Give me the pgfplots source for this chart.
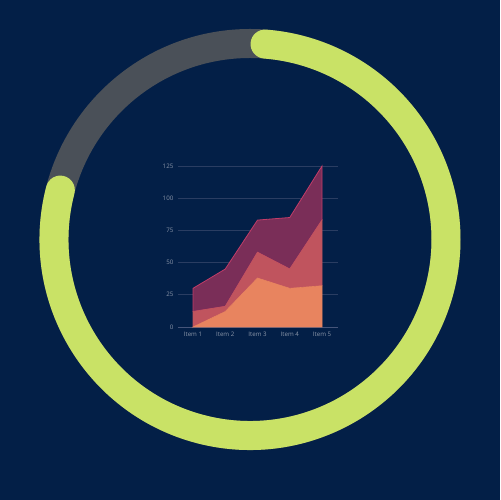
\documentclass[border=0pt]{standalone}
\usepackage{pgfplots}
\pgfplotsset{compat=1.18}
\usepackage{fontspec}
\setmainfont{Open Sans}
\definecolor{bg}{HTML}{031F47}
\definecolor{ringg}{HTML}{C9E266}
\definecolor{ringgray}{HTML}{4A5058}
\definecolor{gridc}{HTML}{2A3D62}
\definecolor{axc}{HTML}{46557A}
\definecolor{tickc}{HTML}{8A95A8}
\definecolor{sA}{HTML}{E8845F}
\definecolor{sB}{HTML}{C0545E}
\definecolor{sC}{HTML}{7A2E58}
\definecolor{lC}{HTML}{C23C68}
\begin{document}
\begin{tikzpicture}[x=1bp,y=1bp]
\fill[bg] (0,0) rectangle (500,500);
\draw[ringgray, line width=29bp] (250,260.5) circle (196);
\draw[ringg, line width=29bp, line cap=round] (250,260.5) ++(165.4:196) arc[start angle=165.4, end angle=445.6, radius=196];
\begin{axis}[
  anchor=south west, at={(177.84bp,173bp)},
  x=32.25bp, y=1.288bp,
  xmin=-0.47, xmax=4.5, ymin=0, ymax=125,
  scale only axis,
  axis x line*=bottom, axis y line*=left,
  x axis line style={draw=axc, line width=0.8bp},
  y axis line style={draw=none},
  xtick={0,1,2,3,4},
  xticklabels={Item 1,Item 2,Item 3,Item 4,Item 5},
  ytick={0,25,50,75,100,125},
  major tick style={draw=none},
  ymajorgrids, grid style={draw=gridc, line width=0.6bp},
  tick label style={font=\fontsize{6.2}{7}\selectfont, text=tickc},
  /pgf/number format/assume math mode=true,
  xticklabel style={yshift=-1.5bp},
  yticklabel style={xshift=-1bp},
  stack plots=y,
  clip=false,
]
\addplot[fill=sA, draw=sA, line width=0.6bp] coordinates {(0,0) (1,12) (2,38) (3,30) (4,32)} \closedcycle;
\addplot[fill=sB, draw=sB, line width=0.6bp] coordinates {(0,12) (1,4) (2,20) (3,15) (4,51)} \closedcycle;
\addplot[fill=sC, draw=lC, line width=0.8bp] coordinates {(0,18) (1,29) (2,25) (3,40) (4,42)} \closedcycle;
\end{axis}
\end{tikzpicture}
\end{document}
